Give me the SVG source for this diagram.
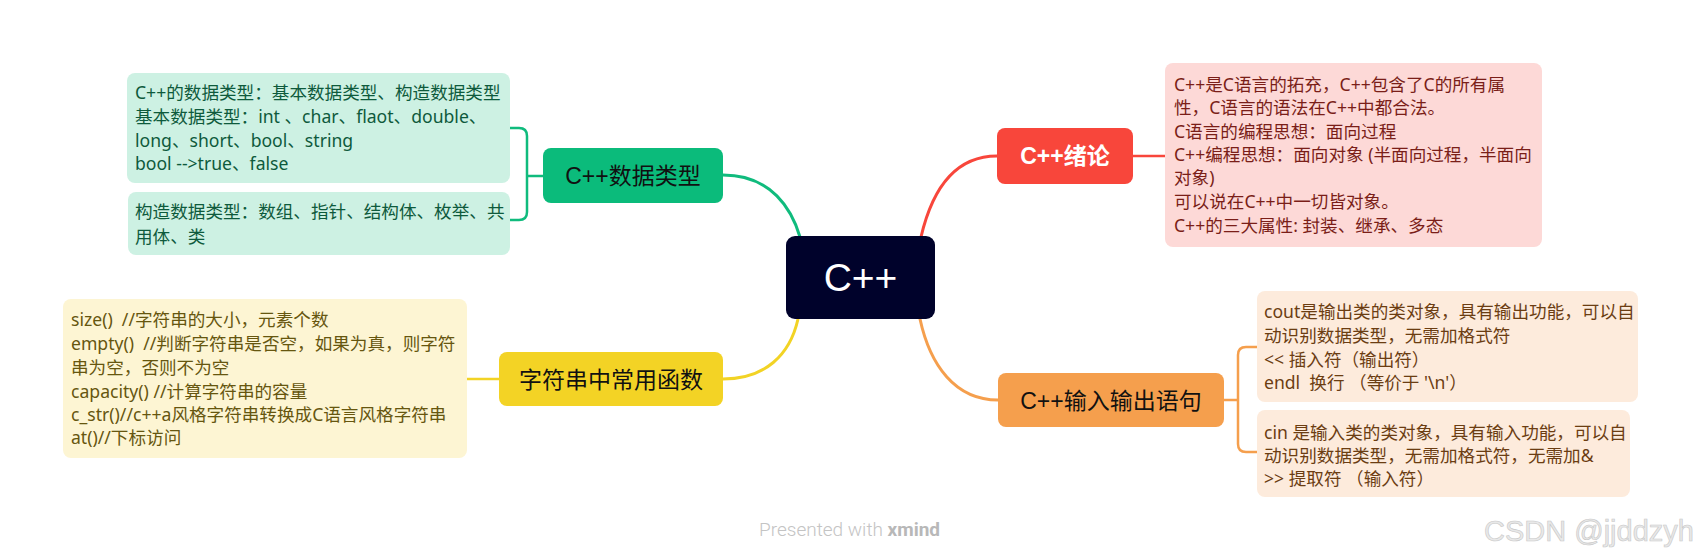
<svg xmlns="http://www.w3.org/2000/svg" width="1703" height="560" viewBox="0 0 1703 560">
<style>
.body{font-family:"Noto Sans","Noto Sans CJK SC",sans-serif;font-size:17.6px}
.pre{white-space:pre}
.topic{font-family:"Liberation Sans","Noto Sans CJK SC",sans-serif;font-size:23px;text-anchor:middle}
.conn{fill:none;stroke-width:3;stroke-linecap:round}
.br{fill:none;stroke-width:2.5}
</style>
<rect width="1703" height="560" fill="#ffffff"/>
<g id="connectors">
  <path class="conn" stroke="#10bb7d" d="M723,175 C772,175 792,210 800,237"/>
  <path class="br" stroke="#10bb7d" d="M543,176 H527 M510,128 H519 Q527,128 527,136 V212 Q527,220 519,220 H510"/>
  <path class="conn" stroke="#f8463b" d="M921,237 C932,190 955,156 997,156"/>
  <path class="br" stroke="#f8463b" d="M1133,156 H1165"/>
  <path class="conn" stroke="#f2d325" d="M798,319 C790,355 765,379 723,379"/>
  <path class="br" stroke="#f2d325" d="M499,379 H467"/>
  <path class="conn" stroke="#f59f4d" d="M920,319 C930,365 955,400 998,400"/>
  <path class="br" stroke="#f59f4d" d="M1224,400 H1238 M1257,347 H1246 Q1238,347 1238,355 V444 Q1238,452 1246,452 H1257"/>
</g>
<g id="center">
  <rect x="786" y="236" width="149" height="83" rx="9" fill="#00022b"/>
  <text x="860.5" y="291" font-family="Liberation Sans,Arial,sans-serif" font-size="39" fill="#ffffff" text-anchor="middle">C++</text>
</g>
<g id="node-datatype">
  <rect x="543" y="148" width="180" height="55" rx="8" fill="#0bbb7b"/>
  <text class="topic" x="633" y="184" fill="#111111">C++数据类型</text>
</g>
<g id="note-datatype-1">
  <rect x="127" y="73" width="383" height="110" rx="8" fill="#cdf1e3"/>
  <text class="body" fill="#0e5a3c">
    <tspan x="135" y="99">C++的数据类型：基本数据类型、构造数据类型</tspan>
    <tspan x="135" y="123">基本数据类型：int 、char、flaot、double、</tspan>
    <tspan x="135" y="147">long、short、bool、string</tspan>
    <tspan x="135" y="170">bool --&gt;true、false</tspan>
  </text>
</g>
<g id="note-datatype-2">
  <rect x="128" y="192" width="382" height="63" rx="8" fill="#cdf1e3"/>
  <text class="body" fill="#0e5a3c">
    <tspan x="135" y="218">构造数据类型：数组、指针、结构体、枚举、共</tspan>
    <tspan x="135" y="243">用体、类</tspan>
  </text>
</g>
<g id="node-string">
  <rect x="499" y="352" width="224" height="54" rx="8" fill="#f3d325"/>
  <text class="topic" x="611" y="388" fill="#111111">字符串中常用函数</text>
</g>
<g id="note-string">
  <rect x="63" y="299" width="404" height="159" rx="8" fill="#fdf5d3"/>
  <text class="body" fill="#66560f" font-size="18">
    <tspan class="pre" x="71" y="326">size()  //字符串的大小，元素个数</tspan>
    <tspan class="pre" x="71" y="350">empty()  //判断字符串是否空，如果为真，则字符</tspan>
    <tspan x="71" y="374">串为空，否则不为空</tspan>
    <tspan x="71" y="398">capacity() //计算字符串的容量</tspan>
    <tspan x="71" y="421">c_str()//c++a风格字符串转换成C语言风格字符串</tspan>
    <tspan x="71" y="444">at()//下标访问</tspan>
  </text>
</g>
<g id="node-intro">
  <rect x="997" y="128" width="136" height="56" rx="8" fill="#f8463b"/>
  <text class="topic" x="1065" y="164" fill="#ffffff" font-weight="bold">C++绪论</text>
</g>
<g id="note-intro">
  <rect x="1165" y="63" width="377" height="184" rx="8" fill="#fdd9d7"/>
  <text class="body" fill="#7a1e18" font-size="18.4">
    <tspan x="1174" y="91">C++是C语言的拓充，C++包含了C的所有属</tspan>
    <tspan x="1174" y="114">性，C语言的语法在C++中都合法。</tspan>
    <tspan x="1174" y="138">C语言的编程思想：面向过程</tspan>
    <tspan x="1174" y="161">C++编程思想：面向对象 (半面向过程，半面向</tspan>
    <tspan x="1174" y="184">对象)</tspan>
    <tspan x="1174" y="208">可以说在C++中一切皆对象。</tspan>
    <tspan x="1174" y="232">C++的三大属性: 封装、继承、多态</tspan>
  </text>
</g>
<g id="node-io">
  <rect x="998" y="373" width="226" height="54" rx="8" fill="#f59f4d"/>
  <text class="topic" x="1111" y="409" fill="#111111">C++输入输出语句</text>
</g>
<g id="note-io-1">
  <rect x="1257" y="291" width="381" height="111" rx="8" fill="#fdebdc"/>
  <text class="body" fill="#6b3d12" font-size="17.4">
    <tspan x="1264" y="318">cout是输出类的类对象，具有输出功能，可以自</tspan>
    <tspan x="1264" y="342">动识别数据类型，无需加格式符</tspan>
    <tspan x="1264" y="366">&lt;&lt; 插入符（输出符）</tspan>
    <tspan class="pre" x="1264" y="389">endl  换行 （等价于 '\n'）</tspan>
  </text>
</g>
<g id="note-io-2">
  <rect x="1257" y="410" width="373" height="87" rx="8" fill="#fdebdc"/>
  <text class="body" fill="#6b3d12" font-size="17.4">
    <tspan x="1264" y="439">cin 是输入类的类对象，具有输入功能，可以自</tspan>
    <tspan x="1264" y="462">动识别数据类型，无需加格式符，无需加&amp;</tspan>
    <tspan x="1264" y="485">&gt;&gt; 提取符 （输入符）</tspan>
  </text>
</g>
<g id="footer">
  <text x="759" y="536" font-family="Roboto,Inter,sans-serif" font-size="19" font-weight="300" fill="#c4c4c4">Presented with <tspan font-weight="bold" fill="#b8b8b8">xmind</tspan></text>
  <text x="1484" y="541" font-family="Liberation Sans,Arial,sans-serif" font-size="29" fill="#e8e8e8" stroke="#c8c8c8" stroke-width="0.6">CSDN @jjddzyh</text>
</g>
</svg>
